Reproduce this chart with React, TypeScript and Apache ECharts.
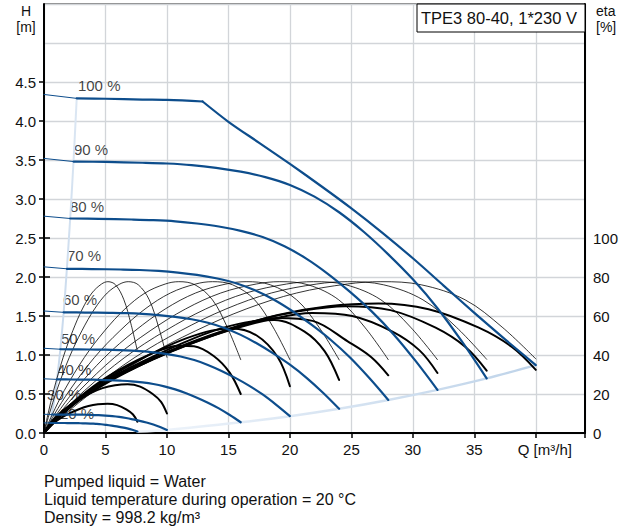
import React, { useEffect, useRef } from 'react';
import * as echarts from 'echarts';

const FONT = '"Liberation Sans", Arial, Helvetica, sans-serif';
const BLUE = '#0d4d8c';

// ---- tick labels ----
const xTickLabels = ['0', '5', '10', '15', '20', '25', '30', '35', 'Q [m³/h]'];
const etaTickMax = 100;
const hTickMax = 4.5;

// ---- pump curves H(Q), [Q m³/h, H m]; 2nd point = start of the bold part ----
const speed100Flat = [[0, 4.34], [2.66, 4.29], [5, 4.285], [8, 4.275], [10, 4.27], [12.9, 4.25]];
const speed100Fall = [[12.9, 4.25], [15, 3.99], [17.5, 3.72], [20, 3.45], [22.5, 3.17], [25, 2.88], [27.5, 2.57], [30, 2.24], [32.5, 1.89], [35, 1.54], [37.5, 1.2], [40, 0.87]];
const speed90 = [[0, 3.52], [2.4, 3.48], [5, 3.475], [8, 3.465], [10, 3.455], [12, 3.435], [14, 3.4], [16, 3.35], [18, 3.28], [20, 3.18], [22, 3.03], [24, 2.83], [26, 2.58], [28, 2.29], [30, 1.97], [32, 1.6], [34, 1.17], [36, 0.7]];
const speed80 = [[0, 2.78], [2.13, 2.75], [4.44, 2.745], [7.11, 2.737], [8.89, 2.729], [10.67, 2.714], [12.44, 2.686], [14.22, 2.647], [16, 2.591], [17.78, 2.512], [19.56, 2.394], [21.33, 2.236], [23.11, 2.038], [24.89, 1.809], [26.67, 1.556], [28.44, 1.264], [30.22, 0.924], [32, 0.553]];
const speed70 = [[0, 2.13], [1.86, 2.105], [3.89, 2.102], [6.22, 2.096], [7.78, 2.09], [9.33, 2.078], [10.89, 2.057], [12.44, 2.027], [14, 1.984], [15.56, 1.924], [17.11, 1.833], [18.67, 1.712], [20.22, 1.561], [21.78, 1.385], [23.33, 1.192], [24.89, 0.968], [26.44, 0.708], [28, 0.424]];
const speed60 = [[0, 1.564], [1.6, 1.547], [3.33, 1.544], [5.33, 1.54], [6.67, 1.536], [8, 1.527], [9.33, 1.511], [10.67, 1.489], [12, 1.458], [13.33, 1.413], [14.67, 1.347], [16, 1.258], [17.33, 1.147], [18.67, 1.018], [20, 0.876], [21.33, 0.711], [22.67, 0.52], [24, 0.311]];
const speed50 = [[0, 1.086], [1.33, 1.074], [2.78, 1.072], [4.44, 1.069], [5.56, 1.066], [6.67, 1.06], [7.78, 1.049], [8.89, 1.034], [10, 1.012], [11.11, 0.981], [12.22, 0.935], [13.33, 0.873], [14.44, 0.796], [15.56, 0.707], [16.67, 0.608], [17.78, 0.494], [18.89, 0.361], [20, 0.216]];
const speed40 = [[0, 0.695], [1.06, 0.687], [2.22, 0.686], [3.56, 0.684], [4.44, 0.682], [5.33, 0.678], [6.22, 0.671], [7.11, 0.662], [8, 0.648], [8.89, 0.628], [9.78, 0.598], [10.67, 0.559], [11.56, 0.51], [12.44, 0.453], [13.33, 0.389], [14.22, 0.316], [15.11, 0.231], [16, 0.138]];
const speed30 = [[0, 0.24], [0.64, 0.237], [1.39, 0.236], [2.22, 0.236], [2.78, 0.235], [3.33, 0.234], [3.89, 0.231], [4.44, 0.228], [5, 0.223], [5.56, 0.216], [6.11, 0.206], [6.67, 0.192], [7.22, 0.175], [7.78, 0.156], [8.33, 0.134], [8.89, 0.109], [9.44, 0.078], [10, 0.04]];
const speed20 = [[0, 0.13], [0.5, 0.128], [1.06, 0.128], [1.69, 0.128], [2.11, 0.127], [2.53, 0.127], [2.96, 0.125], [3.38, 0.124], [3.8, 0.121], [4.22, 0.117], [4.64, 0.112], [5.07, 0.104], [5.49, 0.095], [5.91, 0.085], [6.33, 0.073], [6.76, 0.059], [7.18, 0.042], [7.6, 0.02]];

// ---- boundary lines (light blue) ----
const startLine = [[0, 0], [0.27, 0.043], [0.53, 0.17], [0.8, 0.39], [1.06, 0.687], [1.33, 1.074], [1.6, 1.547], [1.86, 2.105], [2.13, 2.75], [2.4, 3.48], [2.66, 4.29]];
const endLine = [[7.6, 0.02], [10, 0.04], [16, 0.138], [20, 0.216], [24, 0.311], [28, 0.424], [32, 0.553], [36, 0.7], [40, 0.87]];

// ---- speed labels [Q, H, text] (left edge / middle of text) ----
const speedLabels = [
  [2.76, 4.45, '100 %'], [2.44, 3.64, '90 %'], [2.11, 2.9, '80 %'], [1.87, 2.27, '70 %'],
  [1.54, 1.71, '60 %'], [1.38, 1.21, '50 %'], [1.06, 0.82, '40 %'], [0.25, 0.49, '30 %'], [1.3, 0.25, '20 %'],
];

// ---- efficiency curves, eta [%] ----
const thinQ = [
  [0, 0.31, 0.78, 1.56, 2.34, 3.12, 3.9, 4.68, 5.2, 5.82, 6.5, 7.07, 7.6],
  [0, 0.41, 1.03, 2.06, 3.08, 4.11, 5.14, 6.17, 6.85, 7.67, 8.56, 9.32, 10],
  [0, 0.66, 1.64, 3.29, 4.93, 6.58, 8.22, 9.86, 10.96, 12.28, 13.7, 14.9, 16],
  [0, 0.82, 2.06, 4.11, 6.17, 8.22, 10.28, 12.33, 13.7, 15.34, 17.13, 18.63, 20],
  [0, 0.99, 2.47, 4.93, 7.4, 9.86, 12.33, 14.8, 16.44, 18.41, 20.55, 22.36, 24],
  [0, 1.15, 2.88, 5.75, 8.63, 11.51, 14.38, 17.26, 19.18, 21.48, 23.97, 26.08, 28],
  [0, 1.32, 3.29, 6.58, 9.86, 13.15, 16.44, 19.73, 21.92, 24.55, 27.4, 29.81, 32],
  [0, 1.48, 3.7, 7.4, 11.1, 14.8, 18.49, 22.19, 24.66, 27.62, 30.82, 33.53, 36],
  [0, 1.64, 4.11, 8.22, 12.33, 16.44, 20.55, 24.66, 27.4, 30.68, 34.25, 37.26, 40],
];
const thinEta = [
  [0, 9.3, 21.7, 38.8, 52.4, 63.6, 71.8, 76.4, 77.6, 76, 68.3, 56, 42],
  [0, 9.3, 21.7, 38.8, 52.4, 63.6, 71.8, 76.4, 77.6, 76, 68.3, 54.3, 38.8],
  [0, 9.3, 21.7, 38.8, 52.4, 63.6, 71.8, 76.4, 77.6, 76, 68.3, 54.3, 37.6],
  [0, 9.3, 21.7, 38.8, 52.4, 63.6, 71.8, 76.4, 77.6, 76, 68.3, 54.3, 37.6],
  [0, 9.3, 21.7, 38.8, 52.4, 63.6, 71.8, 76.4, 77.6, 76, 68.3, 54.3, 37.6],
  [0, 9.3, 21.7, 38.8, 52.4, 63.6, 71.8, 76.4, 77.6, 76, 68.3, 54.3, 37.6],
  [0, 9.3, 21.7, 38.8, 52.4, 63.6, 71.8, 76.4, 77.6, 76, 68.3, 54.3, 37.6],
  [0, 9.3, 21.7, 38.8, 52.4, 63.6, 71.8, 76.4, 77.6, 76, 68.3, 54.3, 37.8],
  [0, 9.3, 21.7, 38.8, 52.4, 63.6, 71.8, 76.4, 77.6, 76, 68.3, 54.3, 38],
];
const thickQ = [
  [0, 0.26, 0.62, 1.29, 2.07, 2.84, 3.62, 4.39, 5.17, 5.95, 6.72, 7.24, 7.6],
  [0, 0.34, 0.82, 1.7, 2.72, 3.74, 4.76, 5.78, 6.8, 7.82, 8.84, 9.52, 10],
  [0, 0.54, 1.31, 2.72, 4.36, 5.99, 7.63, 9.26, 10.9, 12.2, 13.8, 15.1, 16],
  [0, 0.68, 1.63, 3.4, 5.44, 7.48, 9.52, 11.56, 13.6, 15.3, 17.3, 19, 20],
  [0, 0.82, 1.96, 4.08, 6.52, 8.97, 11.41, 13.86, 16.3, 18.75, 21.19, 22.82, 24],
  [0, 0.95, 2.28, 4.75, 7.6, 10.45, 13.3, 16.15, 19, 21.85, 24.7, 26.6, 28],
  [0, 1.09, 2.62, 5.45, 8.72, 11.99, 15.26, 18.53, 21.8, 25.07, 28.34, 30.52, 32],
  [0, 1.22, 2.94, 6.12, 9.8, 13.47, 17.15, 20.82, 24.5, 28.17, 31.85, 34.3, 36],
  [0, 1.36, 3.26, 6.8, 10.88, 14.96, 19.04, 23.12, 27.2, 31.28, 35.36, 38.08, 40],
];
const thickEta = [
  [0, 2.1, 4.4, 7.4, 10.1, 12.2, 13.8, 14.7, 15, 14.3, 12, 9.5, 5.8],
  [0, 3.5, 7.3, 12.3, 16.8, 20.3, 23, 24.5, 25, 23.8, 20, 16, 10],
  [0, 4.4, 9.6, 17.5, 25.5, 32, 37.5, 42, 44.8, 44.5, 39.5, 31, 20],
  [0, 5.2, 11.5, 20.5, 29, 36.5, 43, 48.5, 52.5, 53.6, 50, 39, 24],
  [0, 6, 13.5, 23.5, 32, 39.5, 46.5, 52.5, 56.5, 58, 52, 42, 27.2],
  [0, 6.8, 14.5, 25, 34, 42, 49, 55, 59, 57.5, 47, 39, 29.6],
  [0, 7.5, 16, 27.5, 37.5, 46, 53, 58.5, 61.5, 60, 52, 42.5, 30.8],
  [0, 8.2, 17.5, 30, 41, 50, 57.5, 62.5, 65, 63, 54, 44, 32],
  [0, 8.8, 18.5, 31.5, 43.5, 53, 60.5, 65, 66.4, 63.5, 54, 44, 32.4],
];

const footerLines = [
  'Pumped liquid = Water',
  'Liquid temperature during operation = 20 °C',
  'Density = 998.2 kg/m³',
];

function zip(qs: number[], vs: number[]) {
  return qs.map((q, i) => [q, vs[i]]);
}

function lineSeries(data: number[][], color: any, width: number, gi: number, z: number, smooth: number | boolean = 0.35) {
  return {
    type: 'line',
    xAxisIndex: gi,
    yAxisIndex: gi,
    data,
    smooth,
    symbol: 'none',
    showSymbol: false,
    silent: true,
    z,
    lineStyle: { color, width, cap: 'round', join: 'round' },
  };
}

export default function App() {
  const ref = useRef<HTMLDivElement>(null);
  useEffect(() => {
    document.body.style.margin = '0';
    const chart = echarts.init(ref.current!, null, { renderer: 'svg' });
    const series: any[] = [];

    // light blue boundaries
    series.push(lineSeries(startLine, new echarts.graphic.LinearGradient(0, 0, 0, 1, [
      { offset: 0, color: '#dce7f3' }, { offset: 1, color: '#c2d5ea' }]), 2, 0, 2, 0.3));
    series.push(lineSeries(endLine, new echarts.graphic.LinearGradient(0, 0, 1, 0, [
      { offset: 0, color: '#f0f5fb' }, { offset: 1, color: '#bed3e9' }]), 2.5, 0, 2, 0.3));

    // efficiency curves
    thinQ.forEach((qs, i) => series.push(lineSeries(zip(qs, thinEta[i]), '#000', 0.8, 1, 3)));
    thickQ.forEach((qs, i) => series.push(lineSeries(zip(qs, thickEta[i]), '#000', 2, 1, 4)));

    // pump curves
    const curves = [speed90, speed80, speed70, speed60, speed50, speed40, speed30, speed20];
    series.push(lineSeries(speed100Flat.slice(0, 2), BLUE, 1, 0, 5, false));
    series.push(lineSeries(speed100Flat.slice(1), BLUE, 2.2, 0, 6));
    series.push(lineSeries(speed100Fall, BLUE, 2.2, 0, 6, 0.3));
    curves.forEach((c) => {
      series.push(lineSeries(c.slice(0, 2), BLUE, 1, 0, 5, false));
      series.push(lineSeries(c.slice(1), BLUE, 2.2, 0, 6));
    });

    // speed labels
    series.push({
      type: 'scatter',
      xAxisIndex: 0,
      yAxisIndex: 0,
      symbolSize: 0,
      silent: true,
      z: 1,
      data: speedLabels.map((d) => ({ value: [d[0], d[1]], name: d[2] })),
      label: {
        show: true,
        position: [0, 0],
        align: 'left',
        verticalAlign: 'middle',
        formatter: (p: any) => p.name,
        fontSize: 15,
        lineHeight: 15,
        fontFamily: FONT,
        color: '#111',
      },
    });

    const grid = { left: 44, right: 45, bottom: 97 };
    const option: any = {
      animation: false,
      backgroundColor: '#fff',
      textStyle: { fontFamily: FONT },
      grid: [
        { ...grid, top: 4, show: true, borderColor: '#000', borderWidth: 1, backgroundColor: 'transparent' },
        { ...grid, top: 238 },
        { ...grid, top: 82 },
      ],
      xAxis: [
        {
          gridIndex: 0, type: 'value', min: 0, max: 44, interval: 5,
          axisLine: { show: true, onZero: false, lineStyle: { color: '#000', width: 2 } },
          axisTick: { show: true, inside: false, length: 5, lineStyle: { color: '#000', width: 1.5 } },
          axisLabel: {
            show: true, margin: 9, fontSize: 15, color: '#111', fontFamily: FONT,
            formatter: (v: number) => {
              const idx = Math.round(v / 5);
              if (Math.abs(v - idx * 5) > 1e-6 || idx >= xTickLabels.length) return '';
              const t = xTickLabels[idx];
              return idx === xTickLabels.length - 1 ? '{q|' + t + '}' : t;
            },
            rich: { q: { fontSize: 15, fontFamily: FONT, color: '#111', padding: [0, 0, 0, 18] } },
          },
          splitLine: { show: true, lineStyle: { color: '#d2d5d9', width: 1.3 } },
        },
        { gridIndex: 1, type: 'value', min: 0, max: 44, show: false },
        { gridIndex: 2, type: 'value', min: 0, max: 44, show: false },
      ],
      yAxis: [
        {
          gridIndex: 0, type: 'value', min: 0, max: 5.5, interval: 0.5, position: 'left',
          axisLine: { show: true, onZero: false, lineStyle: { color: '#000', width: 2 } },
          axisTick: { show: false }, axisLabel: { show: false },
          splitLine: { show: true, lineStyle: { color: '#d2d5d9', width: 1.3 } },
        },
        {
          gridIndex: 1, type: 'value', min: 0, max: etaTickMax, interval: 20, position: 'right',
          axisLine: { show: false },
          axisTick: { show: true, inside: false, length: 6, lineStyle: { color: '#000', width: 1.5 } },
          axisLabel: { show: true, margin: 8, fontSize: 15, color: '#111', fontFamily: FONT },
          splitLine: { show: false },
        },
        {
          gridIndex: 2, type: 'value', min: 0, max: hTickMax, interval: 0.5, position: 'left',
          axisLine: { show: false },
          axisTick: { show: true, inside: false, length: 5, lineStyle: { color: '#000', width: 1.5 } },
          axisLabel: { show: true, margin: 8, fontSize: 15, color: '#111', fontFamily: FONT, formatter: (v: number) => v.toFixed(1) },
          splitLine: { show: false },
        },
        {
          gridIndex: 0, type: 'value', min: 0, max: 5.5, position: 'right',
          axisLine: { show: true, onZero: false, lineStyle: { color: '#000', width: 2 } },
          axisTick: { show: false }, axisLabel: { show: false }, splitLine: { show: false },
        },
      ],
      graphic: [
        { type: 'rect', z: 100, shape: { x: 417, y: 4, width: 168, height: 28 }, style: { fill: '#fff', stroke: '#000', lineWidth: 1 } },
        { type: 'text', z: 101, x: 421, y: 18, style: { text: 'TPE3 80-40, 1*230 V', font: '16.5px ' + FONT, fill: '#111', verticalAlign: 'middle', align: 'left' } },
        { type: 'text', z: 101, x: 26, y: 11, style: { text: 'H', font: '14px ' + FONT, fill: '#111', verticalAlign: 'middle', align: 'center' } },
        { type: 'text', z: 101, x: 26, y: 27, style: { text: '[m]', font: '14px ' + FONT, fill: '#111', verticalAlign: 'middle', align: 'center' } },
        { type: 'text', z: 101, x: 596, y: 11, style: { text: 'eta', font: '14px ' + FONT, fill: '#111', verticalAlign: 'middle', align: 'left' } },
        { type: 'text', z: 101, x: 596, y: 27, style: { text: '[%]', font: '14px ' + FONT, fill: '#111', verticalAlign: 'middle', align: 'left' } },
        ...footerLines.map((t, i) => ({
          type: 'text', z: 101, x: 44, y: 481 + i * 18,
          style: { text: t, font: '16px ' + FONT, fill: '#111', verticalAlign: 'middle', align: 'left' },
        })),
      ],
      series,
    };
    chart.setOption(option);
    return () => chart.dispose();
  }, []);
  return <div ref={ref} style={{ position: 'fixed', left: 0, top: 0, width: 630, height: 530 }} />;
}
